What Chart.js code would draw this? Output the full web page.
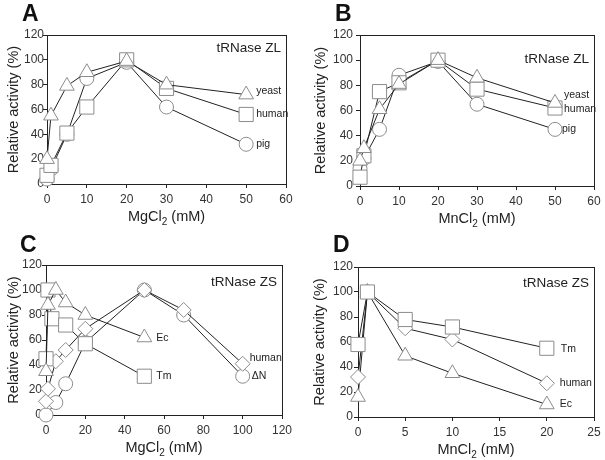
<!DOCTYPE html>
<html><head><meta charset="utf-8">
<script src="https://cdn.jsdelivr.net/npm/chart.js@4/dist/chart.umd.min.js"></script>
<style>
html,body{margin:0;padding:0;background:#fff;}
#wrap{position:relative;width:605px;height:460px;overflow:hidden;}
canvas{position:absolute;}
</style></head><body>
<div id="wrap">
<canvas id="cA" width="302" height="230" style="left:0;top:0"></canvas>
<canvas id="cB" width="303" height="230" style="left:302px;top:0"></canvas>
<canvas id="cC" width="302" height="230" style="left:0;top:230px"></canvas>
<canvas id="cD" width="303" height="230" style="left:302px;top:230px"></canvas>
</div>
<script>
// ---- Panel A: MgCl2, tRNase ZL ----
const xA = [0, 1, 5, 10, 20, 30, 50];
const aYeast = [20, 55, 79, 90, 99, 80, 72];
const aHuman = [7, 15, 41, 62, 100, 77, 56];
const aPig = [4, 12, 40, 85, 98, 62, 32];
// ---- Panel B: MnCl2, tRNase ZL ----
const xB = [0, 1, 5, 10, 20, 30, 50];
const bYeast = [20, 30, 61, 81, 100, 86, 66];
const bHuman = [7, 24, 75, 82, 100, 77, 62];
const bPig = [14, 22, 45, 88, 99, 65, 45];
// ---- Panel C: MgCl2, tRNase ZS ----
const xCEc = [0, 1, 5, 10, 20, 50];
const cEc = [35, 88, 100, 90, 80, 62];
const xCTm = [0, 1, 3, 10, 20, 50];
const cTm = [45, 100, 77, 72, 57, 31];
const xCHuman = [0, 1, 5, 10, 20, 50, 70, 100];
const cHuman = [11, 21, 43, 52, 69, 100, 84, 41];
const xCdN = [0, 5, 10, 20, 50, 70, 100];
const cdN = [0, 10, 25, 58, 100, 80, 31];
// ---- Panel D: MnCl2, tRNase ZS ----
const xD = [0, 1, 5, 10, 20];
const dTm = [58, 100, 78, 72, 55];
const dHuman = [32, 100, 71, 62, 27];
const dEc = [16, 100, 49, 35, 10];

const yTicks = [0, 20, 40, 60, 80, 100, 120];
const FONT = "'Liberation Sans', Arial, sans-serif";
const INK = '#222';

function drawSubTitle(ctx, parts, cx, cy, rotate) {
  ctx.save();
  ctx.translate(cx, cy);
  if (rotate) ctx.rotate(-Math.PI / 2);
  ctx.fillStyle = INK;
  ctx.textBaseline = 'alphabetic';
  ctx.textAlign = 'left';
  let total = 0;
  parts.forEach(p => { ctx.font = (p.sub ? '10px ' : '14.5px ') + FONT; total += ctx.measureText(p.t).width; });
  let x = -total / 2;
  parts.forEach(p => {
    ctx.font = (p.sub ? '10px ' : '14.5px ') + FONT;
    ctx.fillText(p.t, x, p.sub ? 4 : (rotate ? 5 : 0));
    x += ctx.measureText(p.t).width;
  });
  ctx.restore();
}

const decor = {
  id: 'decor',
  beforeDatasetsDraw(chart) {
    const { ctx, chartArea: a } = chart;
    ctx.save();
    ctx.strokeStyle = INK; ctx.lineWidth = 1;
    ctx.strokeRect(Math.round(a.left) + 0.5, Math.round(a.top) + 0.5, Math.round(a.right - a.left), Math.round(a.bottom - a.top));
    ctx.restore();
  },
  afterDraw(chart) {
    const o = chart.options.plugins.decor;
    const { ctx, chartArea: a, scales } = chart;
    ctx.save();
    ctx.fillStyle = '#111';
    ctx.font = 'bold 23px ' + FONT;
    ctx.textBaseline = 'alphabetic'; ctx.textAlign = 'left';
    ctx.fillText(o.letter, o.letterX, o.letterY);
    ctx.font = '13.5px ' + FONT; ctx.fillStyle = INK; ctx.textAlign = 'right';
    ctx.fillText(o.title, a.right - 5, a.top + o.titleDy);
    ctx.font = '10.5px ' + FONT; ctx.textAlign = 'left'; ctx.textBaseline = 'middle';
    chart.data.datasets.forEach((ds, i) => {
      const last = ds.data[ds.data.length - 1];
      const px = scales.x.getPixelForValue(last.x), py = scales.y.getPixelForValue(last.y);
      ctx.fillText(ds.label, px + o.lab[i][0], py + o.lab[i][1]);
    });
    ctx.restore();
    drawSubTitle(ctx, o.xTitle, (a.left + a.right) / 2, a.bottom + 37, false);
    drawSubTitle(ctx, [{ t: 'Relative activity (%)' }], o.yTitleX, (a.top + a.bottom) / 2, true);
  }
};

const STY = {
  tri: { pointStyle: 'triangle', pointRadius: 8.5 },
  sq: { pointStyle: 'rect', pointRadius: 10 },
  cir: { pointStyle: 'circle', pointRadius: 7 },
  dia: { pointStyle: 'rectRot', pointRadius: 7.5 }
};

function panel(id, o) {
  const tickFont = { family: FONT, size: 12 };
  return new Chart(document.getElementById(id), {
    type: 'scatter',
    data: {
      datasets: o.series.map(s => Object.assign({
        label: s.name,
        data: s.x.map((x, i) => ({ x: x, y: s.y[i] })),
        showLine: true, borderColor: INK, borderWidth: 1, tension: 0,
        pointBackgroundColor: '#fff', pointBorderColor: '#8c8c8c', pointBorderWidth: 1,
        clip: false
      }, STY[s.style]))
    },
    options: {
      responsive: false, animation: false, events: [],
      layout: { padding: { top: o.pt, right: o.pr, left: 0, bottom: 0 } },
      plugins: { legend: { display: false }, tooltip: { enabled: false }, decor: o.decor },
      scales: {
        x: {
          type: 'linear', min: 0, max: o.xmax,
          ticks: { stepSize: o.xstep, font: tickFont, color: '#333', padding: 4 },
          grid: { drawOnChartArea: false, tickLength: 4, color: INK },
          border: { color: INK },
          afterFit(s) { s.height = o.xh; }
        },
        y: {
          type: 'linear', min: 0, max: 120,
          afterBuildTicks(s) { s.ticks = yTicks.map(v => ({ value: v })); },
          ticks: { font: tickFont, color: '#333', padding: o.ypad },
          grid: { drawOnChartArea: false, tickLength: 4, color: INK },
          border: { color: INK },
          afterFit(s) { s.width = o.yw; }
        }
      }
    },
    plugins: [decor]
  });
}

const mg = [{ t: 'MgCl' }, { t: '2', sub: true }, { t: ' (mM)' }];
const mn = [{ t: 'MnCl' }, { t: '2', sub: true }, { t: ' (mM)' }];

panel('cA', {
  xmax: 60, xstep: 10, pt: 35, pr: 16, yw: 47, xh: 46, ypad: -1,
  series: [
    { name: 'yeast', x: xA, y: aYeast, style: 'tri' },
    { name: 'human', x: xA, y: aHuman, style: 'sq' },
    { name: 'pig', x: xA, y: aPig, style: 'cir' }
  ],
  decor: { letter: 'A', letterX: 22, letterY: 21, title: 'tRNase ZL', titleDy: 17,
    lab: [[10, -3], [10, 0], [10, 0]], xTitle: mg, yTitleX: 13 }
});
panel('cB', {
  xmax: 60, xstep: 10, pt: 35, pr: 7, yw: 58, xh: 44, ypad: 3,
  series: [
    { name: 'yeast', x: xB, y: bYeast, style: 'tri' },
    { name: 'human', x: xB, y: bHuman, style: 'sq' },
    { name: 'pig', x: xB, y: bPig, style: 'cir' }
  ],
  decor: { letter: 'B', letterX: 33, letterY: 21, title: 'tRNase ZL', titleDy: 28,
    lab: [[9, -8], [9, 1], [7, 0]], xTitle: mn, yTitleX: 18 }
});
panel('cC', {
  xmax: 120, xstep: 20, pt: 35, pr: 20, yw: 46, xh: 45, ypad: 0,
  series: [
    { name: 'Ec', x: xCEc, y: cEc, style: 'tri' },
    { name: 'Tm', x: xCTm, y: cTm, style: 'sq' },
    { name: 'human', x: xCHuman, y: cHuman, style: 'dia' },
    { name: 'ΔN', x: xCdN, y: cdN, style: 'cir' }
  ],
  decor: { letter: 'C', letterX: 20, letterY: 22, title: 'tRNase ZS', titleDy: 21,
    lab: [[12, 1], [12, 0], [7, -6], [9, 0]], xTitle: mg, yTitleX: 13 }
});
panel('cD', {
  xmax: 25, xstep: 5, pt: 37, pr: 8, yw: 56, xh: 43, ypad: 1,
  series: [
    { name: 'Tm', x: xD, y: dTm, style: 'sq' },
    { name: 'human', x: xD, y: dHuman, style: 'dia' },
    { name: 'Ec', x: xD, y: dEc, style: 'tri' }
  ],
  decor: { letter: 'D', letterX: 31, letterY: 22, title: 'tRNase ZS', titleDy: 20,
    lab: [[14, 1], [13, 0], [13, 0]], xTitle: mn, yTitleX: 17 }
});
</script>
</body></html>
